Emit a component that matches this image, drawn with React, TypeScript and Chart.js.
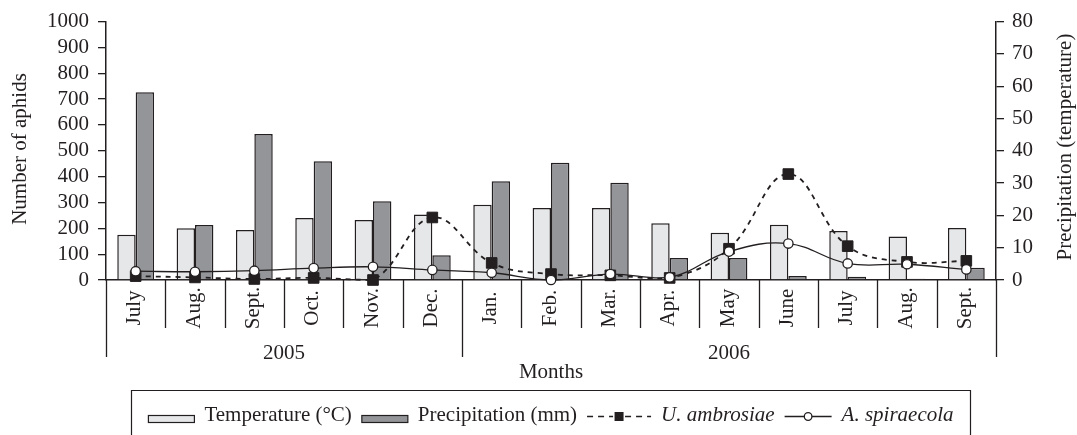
import { useEffect, useRef } from 'react';
import { Chart, registerables } from 'chart.js';

Chart.register(...registerables);

const months = ['July', 'Aug.', 'Sept.', 'Oct.', 'Nov.', 'Dec.', 'Jan.', 'Feb.', 'Mar.', 'Apr.', 'May', 'June', 'July', 'Aug.', 'Sept.'];
const years = ['2005', '2006'];
const monthsPerYear = [6, 9];
const temperature = [14.0, 16.0, 15.5, 19.2, 18.6, 20.3, 23.3, 22.3, 22.3, 17.6, 14.6, 17.1, 15.2, 13.5, 16.1];
const precipitation = [58.1, 17.0, 45.2, 36.8, 24.4, 7.7, 30.6, 36.3, 30.1, 6.8, 6.8, 1.2, 1.0, 0.4, 3.8];
const uAmbrosiae = [15, 10, 4, 8, 0, 242, 66, 23, 18, 8, 121, 410, 131, 70, 74];
const aSpiraecola = [34, 32, 36, 46, 51, 39, 28, 0, 23, 10, 110, 141, 64, 61, 41];

const FONT = '"Liberation Serif", "Times New Roman", serif';
const INK = '#231f20';
const LIGHT = '#e6e7e8';
const DARK = '#939598';

const decor = {
  id: 'decor',
  afterDraw(chart: any) {
    const { ctx, chartArea, scales } = chart;
    const x = scales.x;
    const base = chartArea.bottom;
    const step = x.getPixelForValue(1) - x.getPixelForValue(0);
    const bound = (i: number) => x.getPixelForValue(0) - step / 2 + i * step;
    const majors = [0];
    let acc = 0;
    monthsPerYear.forEach((n) => { acc += n; majors.push(acc); });

    ctx.save();
    ctx.strokeStyle = INK;
    ctx.fillStyle = INK;
    ctx.lineWidth = 1.3;
    for (let i = 0; i <= months.length; i++) {
      const bx = Math.round(bound(i)) + 0.5;
      const major = majors.includes(i);
      ctx.beginPath();
      ctx.moveTo(bx, base);
      ctx.lineTo(bx, base + (major ? 77 : 48));
      ctx.stroke();
    }

    ctx.font = `21px ${FONT}`;
    ctx.textAlign = 'center';
    ctx.textBaseline = 'middle';
    months.forEach((m, i) => {
      const cx = x.getPixelForValue(i);
      ctx.save();
      ctx.translate(cx - 1, base + 28);
      ctx.rotate(-Math.PI / 2);
      ctx.fillText(m, 0, 0);
      ctx.restore();
    });

    ctx.textBaseline = 'alphabetic';
    years.forEach((yr, k) => {
      const cx = (bound(majors[k]) + bound(majors[k + 1])) / 2;
      ctx.fillText(yr, cx, base + 79);
    });
    ctx.fillText('Months', (chartArea.left + chartArea.right) / 2, base + 98);

    // axis titles
    ctx.textBaseline = 'middle';
    ctx.save();
    ctx.translate(20, 149);
    ctx.rotate(-Math.PI / 2);
    ctx.fillText('Number of aphids', 0, 0);
    ctx.restore();
    ctx.save();
    ctx.translate(1065, 147);
    ctx.rotate(-Math.PI / 2);
    ctx.fillText('Precipitation (temperature)', 0, 0);
    ctx.restore();

    // legend
    const boxL = 131.5, boxR = 970.5, boxT = 390.5;
    ctx.lineWidth = 1.2;
    ctx.beginPath();
    ctx.moveTo(boxL, 440);
    ctx.lineTo(boxL, boxT);
    ctx.lineTo(boxR, boxT);
    ctx.lineTo(boxR, 440);
    ctx.stroke();

    const regular = `21px ${FONT}`;
    const italic = `italic 21px ${FONT}`;
    const items: any[] = [
      { kind: 'swatch', w: 46, fill: LIGHT },
      { kind: 'text', text: 'Temperature (°C)', font: regular },
      { kind: 'swatch', w: 46, fill: DARK },
      { kind: 'text', text: 'Precipitation (mm)', font: regular },
      { kind: 'dash', w: 64 },
      { kind: 'text', text: 'U. ambrosiae', font: italic },
      { kind: 'circ', w: 47 },
      { kind: 'text', text: 'A. spiraecola', font: italic },
    ];
    items.forEach((it) => {
      if (it.kind === 'text') { ctx.font = it.font; it.w = ctx.measureText(it.text).width; }
    });
    const gap = 10;
    const total = items.reduce((s, it) => s + it.w, 0) + gap * (items.length - 1);
    let cx = (boxL + boxR) / 2 - total / 2;
    const baseline = 421;
    const midY = 416.5;
    items.forEach((it) => {
      if (it.kind === 'swatch') {
        ctx.fillStyle = it.fill;
        ctx.fillRect(cx, 415.5, it.w, 7);
        ctx.strokeStyle = INK;
        ctx.lineWidth = 1.2;
        ctx.strokeRect(cx, 415.5, it.w, 7);
      } else if (it.kind === 'text') {
        ctx.fillStyle = INK;
        ctx.font = it.font;
        ctx.textAlign = 'left';
        ctx.textBaseline = 'alphabetic';
        ctx.fillText(it.text, cx, baseline);
      } else if (it.kind === 'dash') {
        ctx.strokeStyle = INK;
        ctx.lineWidth = 1.6;
        ctx.setLineDash([6, 5]);
        ctx.beginPath();
        ctx.moveTo(cx, midY);
        ctx.lineTo(cx + 26, midY);
        ctx.moveTo(cx + it.w - 26, midY);
        ctx.lineTo(cx + it.w, midY);
        ctx.stroke();
        ctx.setLineDash([]);
        ctx.fillStyle = INK;
        ctx.fillRect(cx + it.w / 2 - 4.5, midY - 4.5, 9, 9);
      } else if (it.kind === 'circ') {
        ctx.strokeStyle = INK;
        ctx.lineWidth = 1.3;
        ctx.beginPath();
        ctx.moveTo(cx, midY);
        ctx.lineTo(cx + it.w, midY);
        ctx.stroke();
        ctx.beginPath();
        ctx.arc(cx + it.w / 2, midY, 3.8, 0, Math.PI * 2);
        ctx.fillStyle = '#fff';
        ctx.fill();
        ctx.stroke();
      }
      cx += it.w + gap;
    });
    ctx.restore();
  },
};

export default function App() {
  const ref = useRef<HTMLCanvasElement>(null);
  useEffect(() => {
    const tickFont = { family: FONT, size: 21 };
    const chart = new Chart(ref.current!, {
      type: 'bar',
      data: {
        labels: months,
        datasets: [
          {
            type: 'line',
            label: 'U. ambrosiae',
            data: uAmbrosiae,
            yAxisID: 'y',
            borderColor: INK,
            borderWidth: 1.8,
            borderDash: [5, 5],
            tension: 0.4,
            pointStyle: 'rect',
            pointRadius: 7.5,
            pointBackgroundColor: INK,
            pointBorderColor: INK,
            pointBorderWidth: 1,
            fill: false,
            clip: false,
            order: 1,
          } as any,
          {
            type: 'line',
            label: 'A. spiraecola',
            data: aSpiraecola,
            yAxisID: 'y',
            borderColor: INK,
            borderWidth: 1.3,
            tension: 0.4,
            pointStyle: 'circle',
            pointRadius: 4.7,
            pointBackgroundColor: '#ffffff',
            pointBorderColor: INK,
            pointBorderWidth: 1.3,
            fill: false,
            clip: false,
            order: 0,
          } as any,
          {
            label: 'Temperature (°C)',
            data: temperature,
            yAxisID: 'y1',
            backgroundColor: LIGHT,
            borderColor: INK,
            borderWidth: 1.5,
            categoryPercentage: 0.62,
            barPercentage: 1,
            order: 2,
          } as any,
          {
            label: 'Precipitation (mm)',
            data: precipitation,
            yAxisID: 'y1',
            backgroundColor: DARK,
            borderColor: INK,
            borderWidth: 1.5,
            categoryPercentage: 0.62,
            barPercentage: 1,
            order: 2,
          } as any,
        ],
      },
      options: {
        responsive: false,
        animation: false,
        events: [],
        layout: { padding: { top: 18, left: 0, right: 0, bottom: 0 } },
        plugins: { legend: { display: false }, tooltip: { enabled: false }, title: { display: false } },
        scales: {
          x: {
            type: 'category',
            offset: true,
            grid: { display: true, drawOnChartArea: false, drawTicks: false, color: 'rgba(0,0,0,0)' },
            border: { display: true, color: INK, width: 1.5 },
            ticks: { display: false },
            afterFit: (s: any) => { s.height = 155; },
          },
          y: {
            position: 'left',
            min: 0,
            max: 1000,
            ticks: { stepSize: 100, autoSkip: false, font: tickFont, color: INK, padding: 9, callback: (v: any) => String(v) },
            grid: { drawOnChartArea: false, drawTicks: true, tickLength: 8, color: INK, lineWidth: 1.3 },
            border: { display: true, color: INK, width: 1.5 },
            afterFit: (s: any) => { s.width = 106; },
          },
          y1: {
            position: 'right',
            min: 0,
            max: 80,
            ticks: { stepSize: 10, autoSkip: false, font: tickFont, color: INK, padding: 8, callback: (v: any) => String(v) },
            grid: { drawOnChartArea: false, drawTicks: true, tickLength: 8, color: INK, lineWidth: 1.3 },
            border: { display: true, color: INK, width: 1.5 },
            afterFit: (s: any) => { s.width = 81; },
          },
        },
      },
      plugins: [decor],
    });
    return () => chart.destroy();
  }, []);
  return (
    <div style={{ position: 'absolute', left: 0, top: 0, width: 1077, height: 435, background: '#fff' }}>
      <canvas ref={ref} width={1077} height={435} style={{ display: 'block', width: 1077, height: 435 }} />
    </div>
  );
}
